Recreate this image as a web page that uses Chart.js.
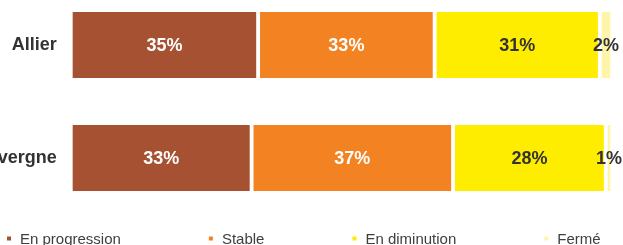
<!DOCTYPE html>
<html>
<head>
<meta charset="utf-8">
<script src="https://cdn.jsdelivr.net/npm/chart.js@4"></script>
<style>
  html, body { margin: 0; padding: 0; background: #ffffff; }
  #wrap { width: 623px; height: 245px; position: relative; }
</style>
</head>
<body>
<div id="wrap"><canvas id="c"></canvas></div>
<script>
// ---- data ----
const categories = ["Allier", "Auvergne"];
const seriesNames = ["En progression", "Stable", "En diminution", "Fermé"];
const enProgression = [34.6, 33.4];
const stable = [32.6, 37.2];
const enDiminution = [30.5, 28.2];
const ferme = [2.3, 1.2];

const seriesColors = ["#A65232", "#F28222", "#FFED00", "#FFF5A8"];
const labelColors = ["#ffffff", "#ffffff", "#333333", "#333333"];
const FONT = "'Liberation Sans', Arial, Helvetica, sans-serif";

const seriesValues = [enProgression, stable, enDiminution, ferme];

const datasets = seriesNames.map((name, i) => ({
  label: name,
  data: seriesValues[i],
  backgroundColor: seriesColors[i],
  borderColor: "#ffffff",
  borderWidth: { left: 2.25, right: 2.25, top: 0, bottom: 0 },
  borderSkipped: false,
  barThickness: 66,
  clip: false
}));

const valueLabels = {
  id: "valueLabels",
  afterDatasetsDraw(chart) {
    const ctx = chart.ctx;
    ctx.save();
    ctx.font = "bold 18px " + FONT;
    ctx.textAlign = "center";
    ctx.textBaseline = "middle";
    chart.data.datasets.forEach((ds, di) => {
      const meta = chart.getDatasetMeta(di);
      meta.data.forEach((el, i) => {
        const p = el.getProps(["x", "y", "base"], true);
        ctx.fillStyle = labelColors[di];
        ctx.fillText(Math.round(ds.data[i]) + "%", (p.x + p.base) / 2, p.y + 1);
      });
    });
    ctx.restore();
  }
};

const customLegend = {
  id: "customLegend",
  afterDraw(chart) {
    const ctx = chart.ctx;
    ctx.save();
    ctx.font = "15px " + FONT;
    ctx.textBaseline = "middle";
    ctx.textAlign = "left";
    let x = 7;
    const y = 240;
    chart.data.datasets.forEach((ds) => {
      ctx.fillStyle = ds.backgroundColor;
      ctx.fillRect(x, y - 3.5, 4, 4);
      ctx.fillStyle = "#404040";
      ctx.fillText(ds.label, x + 13, y);
      x += 13 + ctx.measureText(ds.label).width + 88;
    });
    ctx.restore();
  }
};

new Chart(document.getElementById("c"), {
  type: "bar",
  data: { labels: categories, datasets: datasets },
  plugins: [valueLabels, customLegend],
  options: {
    indexAxis: "y",
    responsive: true,
    maintainAspectRatio: false,
    animation: false,
    layout: { padding: { top: 45, bottom: 87, left: 0, right: 10.75 } },
    plugins: { legend: { display: false }, tooltip: { enabled: false } },
    scales: {
      x: { stacked: true, min: 0, max: 100, display: false },
      y: {
        stacked: true,
        offset: false,
        grid: { display: false, drawTicks: false },
        border: { display: false },
        ticks: {
          padding: 14,
          color: "#333333",
          font: { family: FONT, size: 18, weight: "bold" }
        },
        afterFit(scale) { scale.width = 70.75; }
      }
    }
  }
});
</script>
</body>
</html>
